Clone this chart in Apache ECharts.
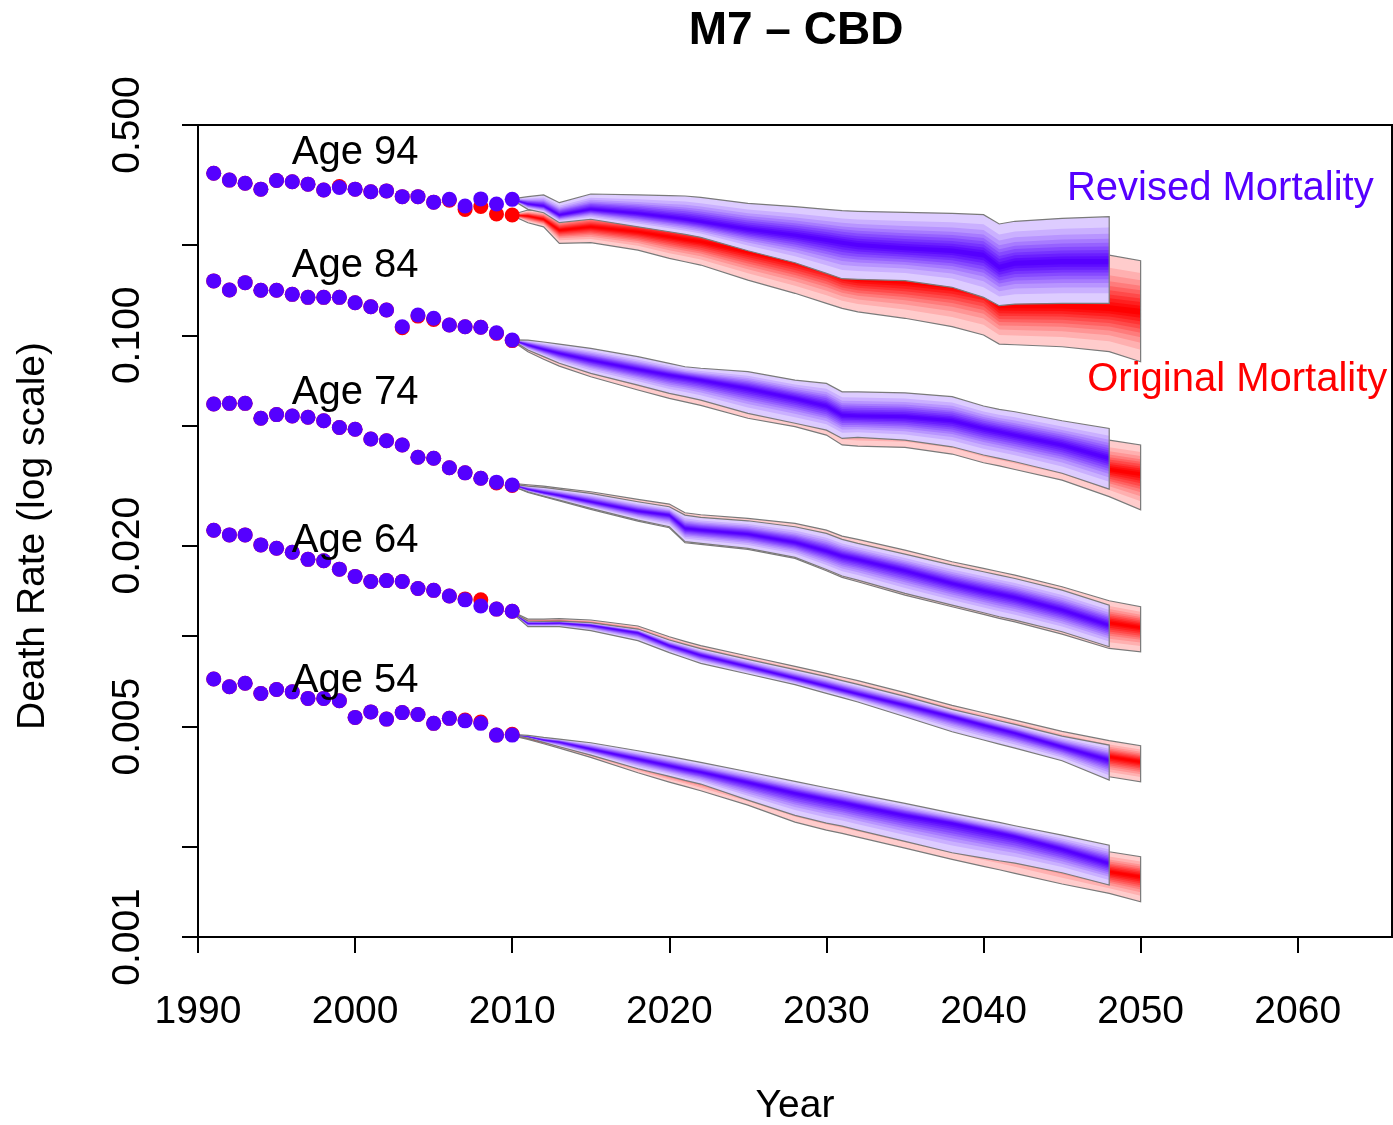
<!DOCTYPE html>
<html>
<head>
<meta charset="utf-8">
<script src="https://cdn.jsdelivr.net/npm/echarts@6/dist/echarts.min.js"></script>
<style>
  html, body { margin: 0; padding: 0; background: #fff; }
  #chart { width: 1393px; height: 1125px; }
</style>
</head>
<body>
<div id="chart"></div>
<script>
// ---- observed death rates, 1991-2010 ----
const obsYears = [1991, 1992, 1993, 1994, 1995, 1996, 1997, 1998, 1999, 2000,
                  2001, 2002, 2003, 2004, 2005, 2006, 2007, 2008, 2009, 2010];

const age94Revised  = [0.3456, 0.328, 0.320, 0.306, 0.327, 0.324, 0.318, 0.304, 0.310, 0.306, 0.300, 0.302, 0.289, 0.289, 0.277, 0.283, 0.269, 0.284, 0.273, 0.283];
const age94Original = [0.3456, 0.328, 0.320, 0.306, 0.327, 0.324, 0.318, 0.304, 0.312, 0.306, 0.300, 0.302, 0.289, 0.289, 0.277, 0.281, 0.262, 0.268, 0.253, 0.251];
const age84Revised  = [0.1516, 0.1414, 0.1496, 0.1411, 0.1411, 0.1368, 0.1337, 0.1337, 0.1337, 0.1283, 0.1244, 0.1213, 0.1068, 0.1168, 0.1139, 0.1082, 0.1068, 0.1063, 0.1020, 0.0964];
const age84Original = [0.1516, 0.1414, 0.1496, 0.1411, 0.1411, 0.1368, 0.1337, 0.1337, 0.1337, 0.1283, 0.1244, 0.1213, 0.1060, 0.1158, 0.1128, 0.1082, 0.1068, 0.1063, 0.1015, 0.0960];
const age74Revised  = [0.0591, 0.0594, 0.0594, 0.0530, 0.0545, 0.0539, 0.0534, 0.0520, 0.0494, 0.0487, 0.0452, 0.0446, 0.0432, 0.0393, 0.0390, 0.0363, 0.0349, 0.0335, 0.0325, 0.0318];
const age74Original = [0.0591, 0.0594, 0.0594, 0.0530, 0.0545, 0.0539, 0.0534, 0.0520, 0.0494, 0.0487, 0.0452, 0.0446, 0.0432, 0.0393, 0.0390, 0.0363, 0.0349, 0.0335, 0.0323, 0.0317];
const age64Revised  = [0.0225, 0.0217, 0.0217, 0.0201, 0.0196, 0.0190, 0.0180, 0.0178, 0.0167, 0.0158, 0.0152, 0.0153, 0.0152, 0.0144, 0.0142, 0.0136, 0.0132, 0.0126, 0.0123, 0.0121];
const age64Original = [0.0225, 0.0217, 0.0217, 0.0201, 0.0196, 0.0190, 0.0180, 0.0178, 0.0167, 0.0158, 0.0152, 0.0153, 0.0152, 0.0144, 0.0142, 0.0136, 0.0133, 0.0132, 0.0123, 0.0121];
const age54Revised  = [0.00720, 0.00679, 0.00697, 0.00645, 0.00665, 0.00653, 0.00621, 0.00621, 0.00610, 0.00537, 0.00560, 0.00530, 0.00557, 0.00549, 0.00513, 0.00533, 0.00523, 0.00513, 0.00469, 0.00469];
const age54Original = [0.00720, 0.00679, 0.00697, 0.00645, 0.00665, 0.00653, 0.00621, 0.00621, 0.00610, 0.00537, 0.00560, 0.00530, 0.00557, 0.00549, 0.00513, 0.00533, 0.00526, 0.00518, 0.00469, 0.00472];

// ---- projected rates: upper / median / lower bounds ----
// revised projections run to 2048 (first 21 years), original ones to 2050
const fanYears = [2010, 2011, 2012, 2013, 2015, 2018, 2020, 2021, 2022, 2025, 2028,
                  2030, 2031, 2032, 2035, 2038, 2040, 2041, 2042, 2045, 2048, 2050];

const age94RevHigh  = [0.284, 0.2888, 0.2927, 0.2759, 0.2949, 0.2927, 0.2911, 0.2904, 0.2875, 0.2746, 0.2676, 0.2622, 0.2595, 0.2583, 0.2563, 0.2543, 0.2517, 0.2344, 0.2393, 0.2448, 0.2478];
const age94RevMid   = [0.283, 0.2731, 0.2689, 0.2510, 0.2622, 0.2543, 0.2468, 0.2430, 0.2385, 0.2250, 0.2153, 0.2073, 0.2031, 0.1995, 0.1945, 0.1910, 0.1848, 0.1682, 0.1734, 0.1756, 0.1756];
const age94RevLow   = [0.282, 0.2622, 0.2555, 0.2367, 0.2430, 0.2294, 0.2209, 0.2165, 0.2116, 0.1910, 0.1742, 0.1607, 0.1542, 0.1535, 0.1519, 0.1444, 0.1337, 0.1254, 0.1270, 0.1277, 0.1277];
const age94OrigHigh = [0.252, 0.2609, 0.2595, 0.2468, 0.2575, 0.2530, 0.2491, 0.2468, 0.2430, 0.2326, 0.2209, 0.2126, 0.2073, 0.2047, 0.1995, 0.1970, 0.1931, 0.1779, 0.1802, 0.1834, 0.1848, 0.1769];
const age94OrigMid  = [0.251, 0.2491, 0.2430, 0.2237, 0.2294, 0.2209, 0.2126, 0.2084, 0.2047, 0.1896, 0.1756, 0.1648, 0.1566, 0.1535, 0.1507, 0.1458, 0.1396, 0.1251, 0.1251, 0.1251, 0.1229, 0.1197];
const age94OrigLow  = [0.250, 0.2367, 0.2294, 0.2021, 0.2031, 0.1920, 0.1802, 0.1756, 0.1712, 0.1526, 0.1379, 0.1277, 0.1229, 0.1197, 0.1139, 0.1068, 0.1002, 0.0935, 0.0930, 0.0916, 0.0882, 0.0817];

const age84RevHigh  = [0.0966, 0.0964, 0.0950, 0.0935, 0.0905, 0.0849, 0.0807, 0.0786, 0.0777, 0.0757, 0.0710, 0.0692, 0.0649, 0.0649, 0.0644, 0.0625, 0.0582, 0.0567, 0.0557, 0.0520, 0.0490];
const age84RevMid   = [0.0964, 0.0928, 0.0898, 0.0871, 0.0827, 0.0771, 0.0738, 0.0725, 0.0710, 0.0666, 0.0617, 0.0582, 0.0543, 0.0539, 0.0536, 0.0520, 0.0490, 0.0478, 0.0466, 0.0432, 0.0390];
const age84RevLow   = [0.0962, 0.0893, 0.0849, 0.0807, 0.0747, 0.0683, 0.0641, 0.0625, 0.0609, 0.0550, 0.0510, 0.0484, 0.0454, 0.0458, 0.0448, 0.0426, 0.0400, 0.0390, 0.0380, 0.0348, 0.0308];
const age84OrigHigh = [0.0961, 0.0955, 0.0935, 0.0916, 0.0882, 0.0823, 0.0783, 0.0767, 0.0751, 0.0728, 0.0683, 0.0661, 0.0625, 0.0622, 0.0617, 0.0591, 0.0557, 0.0543, 0.0534, 0.0503, 0.0448, 0.0432];
const age84OrigMid  = [0.0960, 0.0916, 0.0882, 0.0853, 0.0807, 0.0747, 0.0714, 0.0698, 0.0682, 0.0638, 0.0586, 0.0553, 0.0516, 0.0512, 0.0507, 0.0487, 0.0458, 0.0446, 0.0435, 0.0400, 0.0358, 0.0346];
const age84OrigLow  = [0.0958, 0.0882, 0.0832, 0.0790, 0.0728, 0.0658, 0.0617, 0.0601, 0.0585, 0.0530, 0.0497, 0.0466, 0.0432, 0.0428, 0.0424, 0.0403, 0.0377, 0.0368, 0.0358, 0.0330, 0.0291, 0.0263];

const age74RevHigh  = [0.03202, 0.03153, 0.03121, 0.03074, 0.02981, 0.02797, 0.02692, 0.02526, 0.02481, 0.02418, 0.02310, 0.02195, 0.02097, 0.02034, 0.01874, 0.01722, 0.01637, 0.01595, 0.01555, 0.01422, 0.01268];
const age74RevMid   = [0.03186, 0.03074, 0.02997, 0.02936, 0.02797, 0.02604, 0.02526, 0.02281, 0.02252, 0.02184, 0.02049, 0.01918, 0.01846, 0.01799, 0.01650, 0.01497, 0.01415, 0.01380, 0.01345, 0.01221, 0.01088];
const age74RevLow   = [0.03153, 0.03020, 0.02921, 0.02833, 0.02658, 0.02431, 0.02310, 0.02060, 0.02034, 0.01957, 0.01827, 0.01666, 0.01584, 0.01536, 0.01387, 0.01268, 0.01196, 0.01160, 0.01131, 0.01034, 0.00922];
const age74OrigHigh = [0.03219, 0.03186, 0.03153, 0.03106, 0.03020, 0.02848, 0.02748, 0.02571, 0.02532, 0.02462, 0.02370, 0.02252, 0.02151, 0.02097, 0.01932, 0.01767, 0.01679, 0.01637, 0.01595, 0.01459, 0.01311, 0.01252];
const age74OrigMid  = [0.03194, 0.03106, 0.03043, 0.02981, 0.02848, 0.02658, 0.02571, 0.02340, 0.02310, 0.02237, 0.02097, 0.01967, 0.01893, 0.01846, 0.01692, 0.01536, 0.01452, 0.01415, 0.01380, 0.01252, 0.01108, 0.01069];
const age74OrigLow  = [0.03153, 0.03005, 0.02907, 0.02816, 0.02638, 0.02413, 0.02292, 0.02044, 0.02018, 0.01942, 0.01813, 0.01650, 0.01568, 0.01516, 0.01369, 0.01252, 0.01181, 0.01145, 0.01116, 0.01016, 0.00910, 0.00887];

const age64RevHigh  = [0.01205, 0.011226, 0.011198, 0.011226, 0.011084, 0.010559, 0.009708, 0.009392, 0.009086, 0.008374, 0.007738, 0.007334, 0.007112, 0.006915, 0.006307, 0.005709, 0.005397, 0.005235, 0.005090, 0.004655, 0.004345];
const age64RevMid   = [0.01200, 0.011028, 0.011028, 0.011056, 0.010861, 0.010267, 0.009297, 0.008971, 0.008635, 0.007918, 0.007240, 0.006827, 0.006621, 0.006421, 0.005902, 0.005397, 0.005064, 0.004911, 0.004763, 0.004290, 0.003873];
const age64RevLow   = [0.01195, 0.010750, 0.010750, 0.010750, 0.010425, 0.009658, 0.008813, 0.008461, 0.008122, 0.007485, 0.006897, 0.006454, 0.006243, 0.006039, 0.005397, 0.004812, 0.004515, 0.004378, 0.004246, 0.003853, 0.003324];
const age64OrigHigh = [0.01207, 0.011399, 0.011399, 0.011429, 0.011313, 0.010805, 0.009957, 0.009609, 0.009297, 0.008590, 0.007937, 0.007523, 0.007315, 0.007112, 0.006487, 0.005887, 0.005565, 0.005411, 0.005261, 0.004824, 0.004492, 0.004323];
const age64OrigMid  = [0.01200, 0.011141, 0.011141, 0.011169, 0.010972, 0.010399, 0.009464, 0.009132, 0.008813, 0.008081, 0.007409, 0.006968, 0.006758, 0.006553, 0.006024, 0.005508, 0.005168, 0.005012, 0.004861, 0.004401, 0.003974, 0.003824];
const age64OrigLow  = [0.01193, 0.010833, 0.010833, 0.010833, 0.010532, 0.009758, 0.008926, 0.008569, 0.008226, 0.007582, 0.006986, 0.006537, 0.006324, 0.006117, 0.005466, 0.004873, 0.004573, 0.004435, 0.004301, 0.003903, 0.003409, 0.003281];

const age54RevHigh  = [0.004716, 0.004680, 0.004607, 0.004549, 0.004423, 0.004160, 0.003984, 0.003894, 0.003806, 0.003542, 0.003290, 0.003134, 0.003063, 0.002986, 0.002780, 0.002582, 0.002459, 0.002403, 0.002343, 0.002181, 0.002020];
const age54RevMid   = [0.004700, 0.004631, 0.004514, 0.004446, 0.004213, 0.003904, 0.003710, 0.003616, 0.003533, 0.003265, 0.003009, 0.002866, 0.002801, 0.002731, 0.002542, 0.002391, 0.002272, 0.002215, 0.002159, 0.001960, 0.001756];
const age54RevLow   = [0.004688, 0.004584, 0.004434, 0.004290, 0.004025, 0.003625, 0.003419, 0.003315, 0.003224, 0.002851, 0.002536, 0.002391, 0.002337, 0.002266, 0.002078, 0.001906, 0.001829, 0.001792, 0.001761, 0.001635, 0.001488];
const age54OrigHigh = [0.004688, 0.004631, 0.004549, 0.004479, 0.004345, 0.004076, 0.003894, 0.003806, 0.003710, 0.003436, 0.003183, 0.003024, 0.002948, 0.002873, 0.002669, 0.002472, 0.002349, 0.002290, 0.002232, 0.002073, 0.001920, 0.001848];
const age54OrigMid  = [0.004677, 0.004560, 0.004434, 0.004334, 0.004097, 0.003757, 0.003560, 0.003462, 0.003366, 0.003094, 0.002851, 0.002703, 0.002635, 0.002568, 0.002385, 0.002221, 0.002110, 0.002057, 0.002005, 0.001825, 0.001647, 0.001585];
const age54OrigLow  = [0.004666, 0.004537, 0.004389, 0.004246, 0.003954, 0.003515, 0.003273, 0.003166, 0.003063, 0.002745, 0.002409, 0.002266, 0.002210, 0.002148, 0.001975, 0.001811, 0.001716, 0.001673, 0.001627, 0.001500, 0.001396, 0.001310];

// ---- axis ticks and text annotations ----
const yearTicks = [1990, 2000, 2010, 2020, 2030, 2040, 2050, 2060];
const rateTicks = [0.001, 0.002, 0.005, 0.01, 0.02, 0.05, 0.1, 0.2, 0.5];
const rateLabels = [0.001, 0.005, 0.02, 0.1, 0.5];
const ageNames = ['Age 94', 'Age 84', 'Age 74', 'Age 64', 'Age 54'];
const ageNameYear = [2000, 2000, 2000, 2000, 2000];
const ageNameRate = [0.4040, 0.1700, 0.0644, 0.02075, 0.00710];
const seriesNames = ['Revised Mortality', 'Original Mortality'];
const seriesNameYear = [2055.07, 2056.15];
const seriesNameRate = [0.3060, 0.0710];

// ---- styling ----
const FONT = '"Liberation Sans", Arial, Helvetica, sans-serif';
const BLUE = [85, 0, 255];
const RED = [255, 0, 0];
const css = (c) => 'rgb(' + c.join(',') + ')';
// fan shading: relative half-widths of the nested quantile bands (outer to inner)
const SHADE = [1, 0.76, 0.62, 0.51, 0.42, 0.34, 0.26, 0.19, 0.12, 0.06];
const tint = (c, w) => 'rgb(' + c.map(v => Math.round(v + (255 - v) * w)).join(',') + ')';
const shadeWhite = (k) => 0.8 * Math.pow(1 - k / (SHADE.length - 1), 1.25);

function fanSeries(high, mid, low, color) {
  const n = mid.length;
  const yrs = fanYears.slice(0, n);
  const lm = mid.map(Math.log10), lh = high.map(Math.log10), ll = low.map(Math.log10);
  return {
    type: 'custom',
    coordinateSystem: 'cartesian2d',
    silent: true,
    clip: false,
    data: [[yrs[0], mid[0]]],
    encode: { x: 0, y: 1 },
    renderItem: function (params, api) {
      const band = (f) => {
        const pts = [];
        for (let i = 0; i < n; i++) pts.push(api.coord([yrs[i], Math.pow(10, lm[i] + f * (lh[i] - lm[i]))]));
        for (let i = n - 1; i >= 0; i--) pts.push(api.coord([yrs[i], Math.pow(10, lm[i] + f * (ll[i] - lm[i]))]));
        return pts;
      };
      const children = SHADE.map((f, k) => ({
        type: 'polygon',
        shape: { points: band(f) },
        style: { fill: tint(color, shadeWhite(k)) }
      }));
      children.push({
        type: 'polygon',
        shape: { points: band(1) },
        style: { fill: 'none', stroke: '#7a7a7a', lineWidth: 1.2 }
      });
      return { type: 'group', children: children };
    }
  };
}

const pairs = (arr) => obsYears.map((y, i) => [y, arr[i]]);
const originalObs = [age94Original, age84Original, age74Original, age64Original, age54Original];
const revisedObs = [age94Revised, age84Revised, age74Revised, age64Revised, age54Revised];

const series = [
  fanSeries(age94OrigHigh, age94OrigMid, age94OrigLow, RED),
  fanSeries(age84OrigHigh, age84OrigMid, age84OrigLow, RED),
  fanSeries(age74OrigHigh, age74OrigMid, age74OrigLow, RED),
  fanSeries(age64OrigHigh, age64OrigMid, age64OrigLow, RED),
  fanSeries(age54OrigHigh, age54OrigMid, age54OrigLow, RED),
  fanSeries(age94RevHigh, age94RevMid, age94RevLow, BLUE),
  fanSeries(age84RevHigh, age84RevMid, age84RevLow, BLUE),
  fanSeries(age74RevHigh, age74RevMid, age74RevLow, BLUE),
  fanSeries(age64RevHigh, age64RevMid, age64RevLow, BLUE),
  fanSeries(age54RevHigh, age54RevMid, age54RevLow, BLUE),
  {
    type: 'scatter', silent: true, symbolSize: 15,
    itemStyle: { color: css(RED), opacity: 1 },
    data: [].concat(...originalObs.map(pairs))
  },
  {
    type: 'scatter', silent: true, symbolSize: 15,
    itemStyle: { color: css(BLUE), opacity: 1 },
    data: [].concat(...revisedObs.map(pairs))
  },
  {
    type: 'scatter', silent: true, symbolSize: 1, z: 5,
    itemStyle: { color: '#fff', opacity: 1 },
    label: {
      show: true, position: 'inside', formatter: '{b}',
      fontSize: 40, fontFamily: FONT, color: '#000', opacity: 1
    },
    data: ageNames.map((t, i) => ({ name: t, value: [ageNameYear[i], ageNameRate[i]] }))
  },
  {
    type: 'scatter', silent: true, symbolSize: 1, z: 5,
    itemStyle: { color: '#fff', opacity: 1 },
    label: {
      show: true, position: 'inside', formatter: '{b}',
      fontSize: 40, fontFamily: FONT, opacity: 1
    },
    data: seriesNames.map((t, i) => ({
      name: t, value: [seriesNameYear[i], seriesNameRate[i]],
      label: { color: css(i === 0 ? BLUE : RED) }
    }))
  }
];

const chart = echarts.init(document.getElementById('chart'), null, { renderer: 'canvas' });
chart.setOption({
  animation: false,
  backgroundColor: '#fff',
  grid: {
    left: 198, top: 125, width: 1194, height: 812,
    show: true, borderColor: '#000', borderWidth: 2, backgroundColor: 'transparent'
  },
  xAxis: {
    type: 'value', min: 1990, max: 2066,
    splitLine: { show: false },
    axisLine: { show: false },
    axisTick: { show: true, customValues: yearTicks, length: 16, lineStyle: { color: '#000', width: 2 } },
    axisLabel: {
      customValues: yearTicks, margin: 56, fontSize: 39, fontFamily: FONT, color: '#000',
      formatter: (v) => String(v)
    }
  },
  yAxis: {
    type: 'log', logBase: 10, min: 0.001, max: 0.5,
    splitLine: { show: false },
    axisLine: { show: false },
    axisTick: { show: true, customValues: rateTicks, length: 16, lineStyle: { color: '#000', width: 2 } },
    axisLabel: {
      customValues: rateLabels, rotate: 90, margin: 50, fontSize: 39, fontFamily: FONT, color: '#000',
      formatter: (v) => Number(v).toFixed(3)
    }
  },
  graphic: [
    {
      type: 'text', x: 796, y: 31, silent: true,
      style: { text: 'M7 – CBD', font: 'bold 46px ' + FONT, fill: '#000', textAlign: 'center', textVerticalAlign: 'middle' }
    },
    {
      type: 'text', x: 795, y: 1106, silent: true,
      style: { text: 'Year', font: '39px ' + FONT, fill: '#000', textAlign: 'center', textVerticalAlign: 'middle' }
    },
    {
      type: 'text', x: 33, y: 536, rotation: Math.PI / 2, silent: true,
      style: { text: 'Death Rate (log scale)', font: '39px ' + FONT, fill: '#000', textAlign: 'center', textVerticalAlign: 'middle' }
    }
  ],
  series: series
});
</script>
</body>
</html>
